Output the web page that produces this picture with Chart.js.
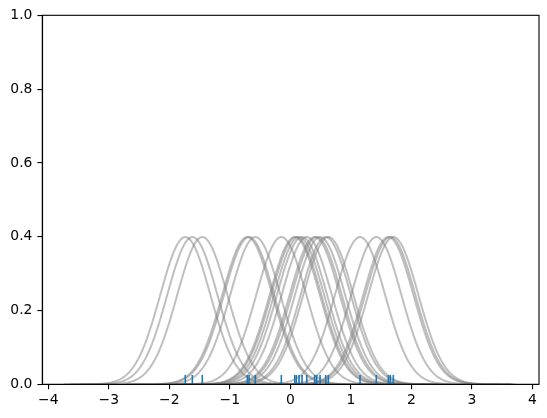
<!DOCTYPE html>
<html>
<head>
<meta charset="utf-8">
<script src="https://cdn.jsdelivr.net/npm/chart.js@4/dist/chart.umd.min.js"></script>
<style>
html,body{margin:0;padding:0;background:#fff;}
#c{display:block;}
</style>
</head>
<body>
<canvas id="c" width="547" height="418"></canvas>
<script>
const samples = [-1.736, -1.620, -1.455, -0.711, -0.683, -0.579, -0.149,
  0.073, 0.099, 0.144, 0.193, 0.271, 0.403, 0.436, 0.491, 0.585, 0.628,
  1.152, 1.421, 1.620, 1.652, 1.702];
// Kernel parameters
const kernelPeak = 0.399;
const kernelWidth = 0.415;
const kernelHalfSpan = 2.01;
const kernelPoints = 200;
const rugHeight = 0.025;
const xTicks = [-4, -3, -2, -1, 0, 1, 2, 3, 4];
const yTicks = [0.0, 0.2, 0.4, 0.6, 0.8, 1.0];

function kernelCurve(xi) {
  const pts = [];
  for (let k = 0; k < kernelPoints; k++) {
    const x = xi - kernelHalfSpan + (2 * kernelHalfSpan) * k / (kernelPoints - 1);
    const z = (x - xi) / kernelWidth;
    pts.push({x: x, y: kernelPeak * Math.exp(-0.5 * z * z)});
  }
  return pts;
}

const datasets = [];
samples.forEach(xi => {
  datasets.push({
    data: [{x: xi, y: 0}, {x: xi, y: rugHeight}],
    borderColor: '#1f77b4', borderWidth: 1.6, pointRadius: 0,
    showLine: true, order: 0, borderCapStyle: 'butt'
  });
});
samples.forEach(xi => {
  datasets.push({
    data: kernelCurve(xi),
    borderColor: 'rgba(128,128,128,0.5)', borderWidth: 2, pointRadius: 0,
    showLine: true, order: 1, tension: 0
  });
});

const frame = {
  id: 'frame',
  afterDraw(chart) {
    const a = chart.chartArea, ctx = chart.ctx;
    ctx.save();
    ctx.strokeStyle = '#000';
    ctx.lineWidth = 1.1;
    ctx.strokeRect(a.left, a.top, a.right - a.left, a.bottom - a.top);
    ctx.restore();
  }
};

const font = {family: 'DejaVu Sans', size: 13.9};
new Chart(document.getElementById('c'), {
  type: 'scatter',
  data: {datasets: datasets},
  options: {
    responsive: false,
    animation: false,
    layout: {padding: {left: 0, right: 8, top: 15.3, bottom: 0}},
    plugins: {legend: {display: false}, tooltip: {enabled: false}},
    scales: {
      x: {
        type: 'linear', min: -4.1, max: 4.11,
        afterBuildTicks: s => { s.ticks = xTicks.map(v => ({value: v})); },
        afterFit: s => { s.height = 33.7; },
        ticks: {color: '#000', font: font, padding: 3, maxRotation: 0,
          callback: v => (v < 0 ? '\u2212' + Math.abs(v) : String(v))},
        grid: {display: true, drawOnChartArea: false, drawTicks: true,
          tickLength: 4.9, color: '#000', lineWidth: 1.1},
        border: {display: true, color: '#000', width: 1.1}
      },
      y: {
        type: 'linear', min: 0, max: 1,
        afterBuildTicks: s => { s.ticks = yTicks.map(v => ({value: v})); },
        afterFit: s => { s.width = 42.3; },
        ticks: {color: '#000', font: font, padding: 5,
          callback: v => Number(v).toFixed(1)},
        grid: {display: true, drawOnChartArea: false, drawTicks: true,
          tickLength: 4.9, color: '#000', lineWidth: 1.1},
        border: {display: true, color: '#000', width: 1.1}
      }
    }
  },
  plugins: [frame]
});
</script>
</body>
</html>
